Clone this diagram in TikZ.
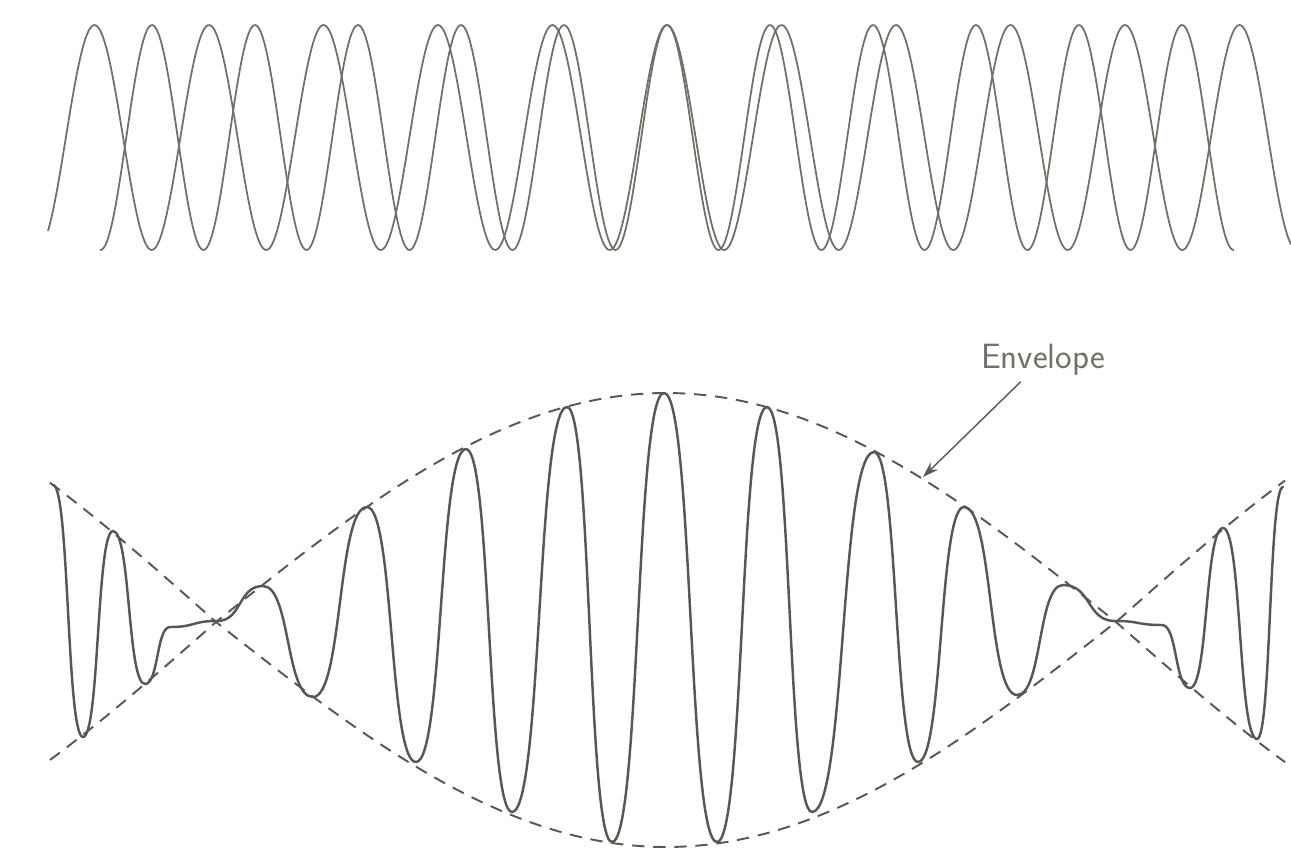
\documentclass[tikz,border=0pt]{standalone}
\usepackage{tikz}
\usetikzlibrary{arrows.meta, positioning}
\definecolor{inkgray}{RGB}{88,88,82}
\definecolor{lightink}{RGB}{112,112,104}

\begin{document}
\begin{tikzpicture}[x=0.02cm, y=-0.02cm,
        wave/.style={line width=1pt, lightink, line join=round},
        carrier/.style={line width=1.4pt, inkgray, line join=round, line cap=round},
        envelope/.style={line width=1.1pt, inkgray, dash pattern=on 7pt off 5pt}]
        \useasboundingbox (0,0) rectangle (1291,849);

        % Two waves of nearly equal frequency
        \draw[wave, domain=48:1291, samples=700]
            plot (\x, {137.5-112.5*cos((\x-667)/114.5*360)});
        \draw[wave, domain=100:1234, samples=650]
            plot (\x, {137.5-112.5*cos((\x-667)/103*360)});

        % Envelope (dashed)
        \draw[envelope, domain=50:1285, samples=150]
            plot (\x, {622-229*cos(0.2*(\x-666))*(1+0.1*(abs(\x-666)>450))});
        \draw[envelope, domain=50:1285, samples=150]
            plot (\x, {622+225*cos(0.2*(\x-666))*(1+0.13*(abs(\x-666)>450))});

        % Resultant wave
        \draw[carrier] (53,485)
            \foreach \xa/\ya/\xb/\yb in {53/485/83/737, 83/737/113/531, 113/531/145/684,
                145/684/170/627, 170/627/217/621, 217/621/263/586, 263/586/313/697,
                313/697/367/507, 367/507/416/762, 416/762/466/449, 466/449/512/812,
                512/812/567/407, 567/407/612/842, 612/842/664/393, 664/393/717/842,
                717/842/767/407, 767/407/812/812, 812/812/874/452, 874/452/918/762,
                918/762/964/507, 964/507/1017/695, 1017/695/1063/585, 1063/585/1115/621,
                1115/621/1162/625, 1162/625/1190/688, 1190/688/1223/528,
                1223/528/1257/739, 1257/739/1283/487}
            { .. controls ({\xa+0.55*(\xb-\xa)},\ya) and ({\xb-0.55*(\xb-\xa)},\yb) .. (\xb,\yb) };

        % Label
        \node[lightink, font=\fontsize{20}{24}\selectfont\sffamily] (lbl) at (1043,360) {Envelope};
        \coordinate (tip) at (923,477);
        \draw[-{Stealth[length=9pt, width=6pt]}, line width=0.8pt, inkgray] (lbl) -- (tip);
    \end{tikzpicture}
\end{document}
